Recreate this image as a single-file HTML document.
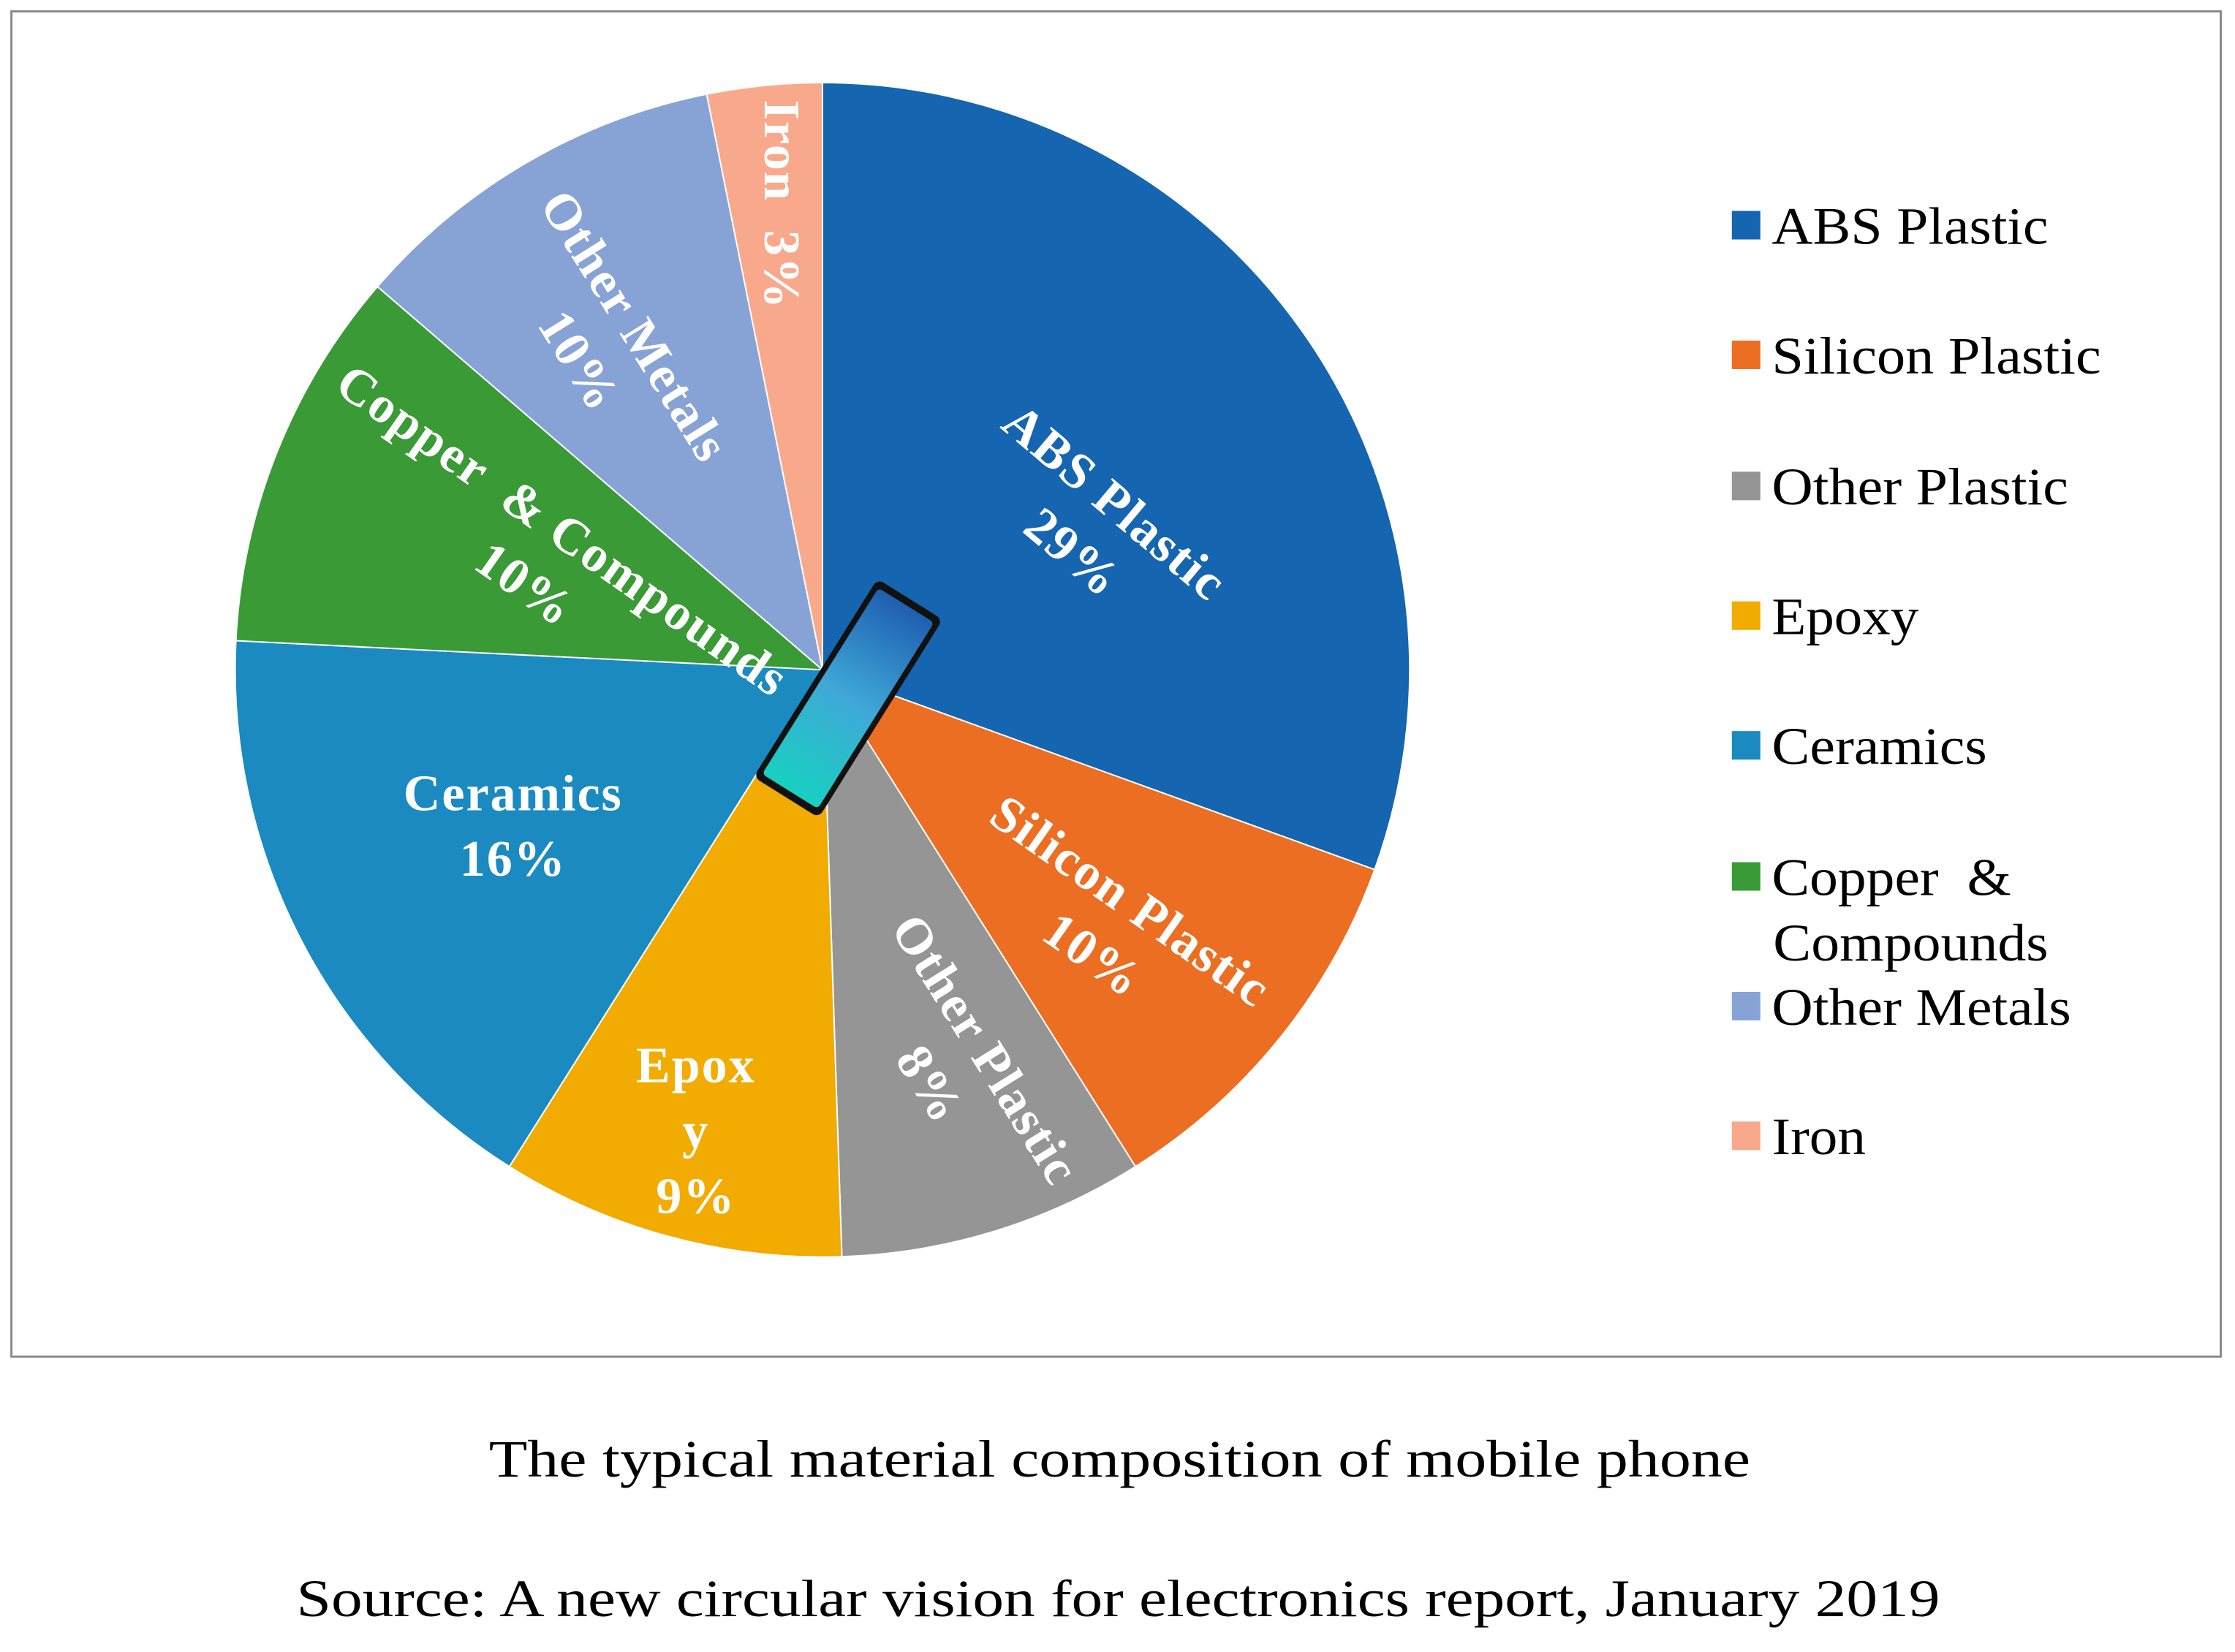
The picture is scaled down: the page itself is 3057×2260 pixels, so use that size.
<!DOCTYPE html>
<html><head><meta charset="utf-8"><style>
html,body{margin:0;padding:0;background:#fff;}
svg{display:block;}
text{font-family:"Liberation Serif",serif;}
</style></head><body>
<svg id="chart" width="3057" height="2260" viewBox="0 0 1568 1159.2" xmlns="http://www.w3.org/2000/svg">
<rect x="8" y="8" width="1550" height="944" fill="#fff" stroke="#888" stroke-width="1.5"/>
<g id="slices"></g>
<g id="labels"></g>
<g transform="translate(595,490) rotate(32)">
<defs><linearGradient id="pg" x1="0" y1="0" x2="0" y2="1"><stop offset="0" stop-color="#1f5fb0"/><stop offset="0.5" stop-color="#3fa8d8"/><stop offset="1" stop-color="#18d0c0"/></linearGradient></defs>
<rect x="-27" y="-82" width="54" height="164" rx="5" fill="#111"/>
<rect x="-23" y="-77" width="46" height="154" rx="3" fill="url(#pg)"/>
</g>
<g id="legend"></g>
<text x="343" y="1036" font-size="37" textLength="885" lengthAdjust="spacingAndGlyphs" fill="#000">The typical material composition of mobile phone</text>
<text x="208" y="1134" font-size="37" textLength="1153" lengthAdjust="spacingAndGlyphs" fill="#000">Source: A new circular vision for electronics report, January 2019</text>
</svg>
<script>
const categories = ["ABS Plastic","Silicon Plastic","Other Plastic","Epoxy","Ceramics","Copper  & Compounds","Other Metals","Iron"];
const values = [29,10,8,9,16,10,10,3];
const valueLabels = ["29%","10%","8%","9%","16%","10%","10%","3%"];
const colors = ["#1565B0","#EC6E22","#959595","#F2AB00","#1A8AC0","#3A9A35","#87A3D6","#F9A98B"];
const NS="http://www.w3.org/2000/svg";
const cx=577, cy=470, r=412;
const total=values.reduce((a,b)=>a+b,0);
function pt(deg,rad){const a=(deg-90)*Math.PI/180;return [cx+rad*Math.cos(a),cy+rad*Math.sin(a)];}
const sg=document.getElementById('slices');
const lg=document.getElementById('labels');
let start=0;
const labelStyle=[
 {f:0.55,dx:5,dy:30,rot:40,lines:["ABS Plastic"]},
 {f:0.72,dx:-28,dy:-5,rot:35,lines:["Silicon Plastic"]},
 {f:0.72,dx:8,dy:-5,rot:58,lines:["Other Plastic"]},
 {f:0.75,dx:-8,dy:25,rot:0,lines:["Epox","y"]},
 {f:0.55,dx:-16,dy:5,rot:0,lines:["Ceramics"]},
 {f:0.55,dx:15,dy:5,rot:35,lines:["Copper  & Compounds"]},
 {f:0.63,dx:-20,dy:-5,rot:58,lines:["Other Metals"]},
 {f:0.82,dx:5,dy:10,rot:90,lines:["Iron  3%"]}
];
values.forEach((v,i)=>{
  const sweep=v/total*360, end=start+sweep;
  const p0=pt(start,r), p1=pt(end,r);
  const path=document.createElementNS(NS,'path');
  path.setAttribute('d',`M${cx},${cy}L${p0[0]},${p0[1]}A${r},${r} 0 ${sweep>180?1:0} 1 ${p1[0]},${p1[1]}Z`);
  path.setAttribute('fill',colors[i]);
  path.setAttribute('stroke','#fff');
  path.setAttribute('stroke-width','1');
  
  
  sg.appendChild(path);
  const st=labelStyle[i];
  const mid=start+sweep/2;
  const c=pt(mid,r*st.f);
  const g=document.createElementNS(NS,'g');
  g.setAttribute('transform',`translate(${c[0]+st.dx},${c[1]+st.dy}) rotate(${st.rot})`);
  
  
  const lines = i===7 ? st.lines : st.lines.concat([valueLabels[i]]);
  const lh=46;
  lines.forEach((t,k)=>{
    const tx=document.createElementNS(NS,'text');
    tx.setAttribute('x',0);
    tx.setAttribute('y',(k-(lines.length-1)/2)*lh+12);
    tx.setAttribute('text-anchor','middle');
    tx.setAttribute('font-size','36');
    tx.setAttribute('font-weight','bold');
    tx.setAttribute('fill','#fff');
    tx.setAttribute('style','white-space:pre;letter-spacing:1px');
    tx.textContent=t;
    g.appendChild(tx);
  });
  lg.appendChild(g);
  start=end;
});
const legend=document.getElementById('legend');
const legendY=[158,249,341,432,523,615,706,797];
const legendW=[[194],[231],[208],[103],[151],[168,193],[210],[66]];
categories.forEach((c,i)=>{
  const g=document.createElementNS(NS,'g');
  
  
  const sq=document.createElementNS(NS,'rect');
  sq.setAttribute('x',1215);sq.setAttribute('y',legendY[i]-10);
  sq.setAttribute('width',20);sq.setAttribute('height',20);
  sq.setAttribute('fill',colors[i]);
  g.appendChild(sq);
  const parts = i===5 ? ["Copper  &","Compounds"] : [c];
  parts.forEach((p,k)=>{
    const t=document.createElementNS(NS,'text');
    t.setAttribute('x',i===5&&k===1?1244:1243);
    t.setAttribute('y',legendY[i]+13+k*46);
    t.setAttribute('font-size','37');
    t.setAttribute('fill','#000');
    t.setAttribute('textLength',legendW[i][k]);
    t.setAttribute('lengthAdjust','spacingAndGlyphs');
    t.setAttribute('style','white-space:pre');
    t.textContent=p;
    g.appendChild(t);
  });
  legend.appendChild(g);
});
</script>
</body></html>
